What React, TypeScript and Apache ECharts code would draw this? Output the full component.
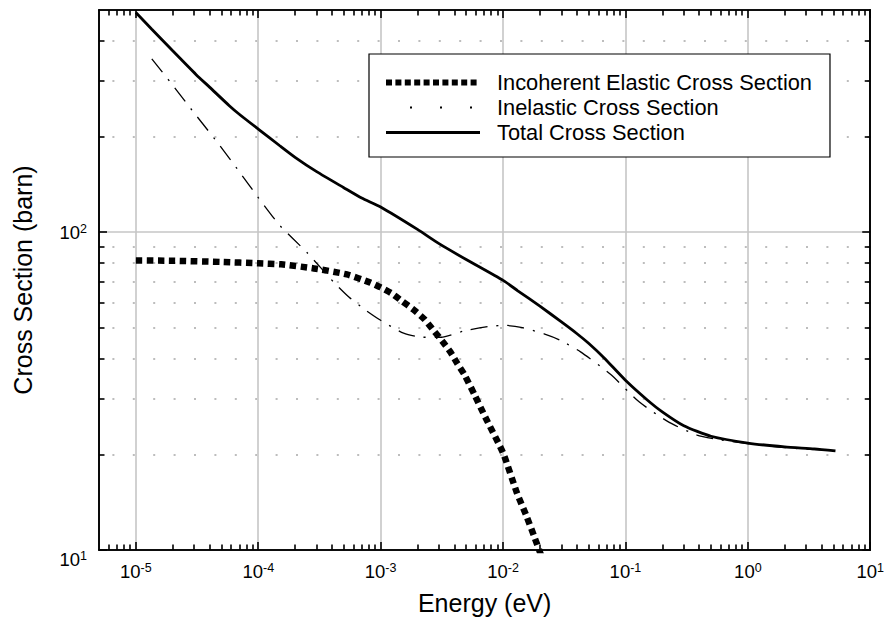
import React, { useEffect, useRef } from 'react';
import * as echarts from 'echarts';

const FONT = '"Liberation Sans", Arial, Helvetica, sans-serif';

// Tick labels / tick positions
const xMajorTicks = [1e-5, 1e-4, 1e-3, 1e-2, 1e-1, 1, 10];
const xMinorMantissas = [2, 3, 4, 5, 6, 7, 8, 9];
const xMinorDecades = [1e-6, 1e-5, 1e-4, 1e-3, 1e-2, 1e-1, 1];
const yMajorTicks = [10, 100];
const yMinorTicks = [20, 30, 40, 50, 60, 70, 80, 90, 200, 300, 400];

const X_MIN = 5e-6;
const X_MAX = 10;
const Y_MIN = 10;
const Y_MAX = 500;

const seriesNames = [
  'Incoherent Elastic Cross Section',
  'Inelastic Cross Section',
  'Total Cross Section',
];

// Incoherent elastic cross section
const elasticEnergy = [
  1e-5, 2e-5, 5e-5, 1e-4, 1.54e-4, 2.85e-4, 5.3e-4, 8.15e-4, 1e-3, 1.23e-3,
  1.51e-3, 1.85e-3, 2.28e-3, 2.75e-3, 3.19e-3, 3.71e-3, 4.23e-3, 4.82e-3,
  5.92e-3, 7.15e-3, 1e-2, 1.3e-2, 1.54e-2, 1.79e-2, 2.05e-2,
];
const elasticXS = [
  81.5, 81.3, 80.6, 79.8, 79.2, 76.9, 73.6, 69.5, 67.0, 64.2,
  60.5, 57.1, 53.2, 48.7, 45.4, 42.0, 38.6, 35.7,
  30.5, 26.2, 20.2, 15.1, 12.9, 11.07, 9.6,
];

// Inelastic cross section
const inelasticEnergy = [
  1.35e-5, 2e-5, 3e-5, 4.82e-5, 7e-5, 1e-4, 1.5e-4, 2.5e-4, 4.15e-4, 5.5e-4,
  7.55e-4, 1e-3, 1.54e-3, 2.19e-3, 3.13e-3, 4.73e-3, 7.98e-3, 1.04e-2, 1.4e-2,
  2.19e-2, 2.9e-2, 4.3e-2, 7.55e-2, 0.13, 0.228, 0.385, 0.6, 1, 2, 3.5, 5.2,
];
const inelasticXS = [
  351, 290, 237, 188, 155, 128.5, 105, 86.3, 69.5, 62.5,
  56.8, 52.8, 48.1, 46.7, 46.7, 48.8, 50.6, 50.9, 50.2,
  47.8, 45.8, 42.0, 35.7, 29.2, 25.2, 23.0, 22.2, 21.6, 21.0, 20.7, 20.5,
];

// Total cross section
const totalEnergy = [
  1e-5, 1.35e-5, 2e-5, 3.11e-5, 4e-5, 5.8e-5, 7e-5, 1e-4, 1.5e-4, 2e-4, 3e-4, 5e-4,
  7e-4, 1e-3, 2e-3, 3e-3, 5e-3, 1e-2, 1.32e-2, 2e-2, 3e-2, 4e-2, 5e-2, 6.7e-2, 0.1,
  0.15, 0.2, 0.3, 0.5, 1, 2, 3.5, 5.2,
];
const totalXS = [
  491, 435, 372, 313, 286, 250, 235, 211, 187, 172, 155, 138,
  128, 120, 102, 92, 82, 70.5, 65.4, 58.5, 52.2, 48.0, 44.7, 40.2, 34.2,
  29.7, 27.2, 24.6, 22.8, 21.7, 21.1, 20.8, 20.5,
];

const xMinorTicks: number[] = [];
xMinorDecades.forEach((d) =>
  xMinorMantissas.forEach((m) => {
    const v = m * d;
    if (v >= X_MIN && v <= X_MAX) xMinorTicks.push(v);
  })
);

const pairs = (xs: number[], ys: number[]) => xs.map((x, i) => [x, ys[i]]);

const expOf = (v: number) => Math.round(Math.log10(v));

const tickRich = {
  b: { fontSize: 18.5, fontFamily: FONT, color: '#000', lineHeight: 20 },
  s: { fontSize: 12.5, fontFamily: FONT, color: '#000', lineHeight: 12, verticalAlign: 'top' },
  g: { fontSize: 10, lineHeight: 18 },
};

export default function App() {
  const ref = useRef<HTMLDivElement>(null);

  useEffect(() => {
    if (!ref.current) return;
    const chart = echarts.init(ref.current, null, { renderer: 'svg' });

    const blackLine = { color: '#000', width: 1.6 };
    const tickLine = { color: '#000', width: 1.6 };

    const logX = { type: 'log', logBase: 10, min: X_MIN, max: X_MAX, gridIndex: 0 };
    const logY = { type: 'log', logBase: 10, min: Y_MIN, max: Y_MAX, gridIndex: 0 };

    const hiddenSymbol = { opacity: 0, color: 'rgba(0,0,0,0)', borderWidth: 0 };

    const plainAxis = (base: any, position: string, ticks: number[], length: number) => ({
      ...base,
      position,
      axisLine: { show: true, lineStyle: blackLine },
      axisTick: { show: true, inside: true, length, customValues: ticks, lineStyle: tickLine },
      axisLabel: { show: false },
      splitLine: { show: false },
      minorTick: { show: false },
      minorSplitLine: { show: false },
    });

    const option: any = {
      animation: false,
      backgroundColor: '#fff',
      grid: { left: 99, right: 15, top: 10, bottom: 82 },
      legend: {
        orient: 'vertical',
        left: 369,
        top: 54,
        padding: [16, 18, 12, 14],
        borderColor: '#000',
        borderWidth: 1.2,
        backgroundColor: '#fff',
        itemWidth: 94,
        itemHeight: 14,
        itemGap: 0,
        selectedMode: false,
        itemStyle: hiddenSymbol,
        textStyle: {
          fontSize: 21.8,
          fontFamily: FONT,
          color: '#000',
          lineHeight: 25,
          padding: [0, 0, 0, 12],
        },
        data: [
          {
            name: seriesNames[0],
            itemStyle: hiddenSymbol,
            lineStyle: { color: '#000', width: 6, type: [6, 3.4], cap: 'butt' },
          },
          {
            name: seriesNames[1],
            itemStyle: hiddenSymbol,
            lineStyle: { color: '#000', width: 2, type: [2, 28], dashOffset: 6, cap: 'butt' },
          },
          {
            name: seriesNames[2],
            itemStyle: hiddenSymbol,
            lineStyle: { color: '#000', width: 2.8, type: 'solid' },
          },
        ],
      },
      xAxis: [
        {
          ...plainAxis(logX, 'bottom', xMajorTicks, 8),
          axisLabel: {
            show: true,
            customValues: xMajorTicks,
            margin: 11,
            formatter: (v: number) => `{b|10}{s|${expOf(v)}}`,
            rich: tickRich,
          },
          splitLine: { show: true, lineStyle: { color: '#c6c6c6', width: 1.6 } },
          name: 'Energy (eV)',
          nameLocation: 'middle',
          nameGap: 40,
          nameTextStyle: { fontSize: 25, fontFamily: FONT, color: '#000' },
        },
        plainAxis(logX, 'bottom', xMinorTicks, 5.5),
        plainAxis(logX, 'top', xMajorTicks, 8),
        plainAxis(logX, 'top', xMinorTicks, 5.5),
      ],
      yAxis: [
        {
          ...plainAxis(logY, 'left', yMajorTicks, 8),
          axisLabel: {
            show: true,
            customValues: yMajorTicks,
            margin: 12,
            formatter: (v: number) =>
              expOf(v) === 1 ? `{g| }\n{b|10}{s|1}` : `{b|10}{s|${expOf(v)}}`,
            rich: tickRich,
          },
          splitLine: { show: true, lineStyle: { color: '#c6c6c6', width: 1.6 } },
          name: 'Cross Section (barn)',
          nameLocation: 'middle',
          nameGap: 64,
          nameTextStyle: { fontSize: 25, fontFamily: FONT, color: '#000' },
        },
        {
          ...plainAxis(logY, 'left', yMinorTicks, 5.5),
          splitLine: {
            show: true,
            lineStyle: { color: '#bdbdbd', width: 1.8, type: [2, 18.4], dashOffset: 7 },
          },
        },
        plainAxis(logY, 'right', yMajorTicks, 8),
        plainAxis(logY, 'right', yMinorTicks, 5.5),
      ],
      series: [
        {
          name: seriesNames[0],
          type: 'line',
          xAxisIndex: 0,
          yAxisIndex: 0,
          data: pairs(elasticEnergy, elasticXS),
          symbol: 'none',
          showSymbol: false,
          smooth: 0.2,
          clip: true,
          lineStyle: { color: '#000', width: 6.5, type: [6.5, 4.5], cap: 'butt', join: 'miter' },
          itemStyle: { color: '#000' },
          z: 3,
        },
        {
          name: seriesNames[1],
          type: 'line',
          xAxisIndex: 0,
          yAxisIndex: 0,
          data: pairs(inelasticEnergy, inelasticXS),
          symbol: 'none',
          showSymbol: false,
          smooth: 0.2,
          clip: true,
          lineStyle: { color: '#000', width: 1.3, type: [17, 9, 2, 9], cap: 'butt' },
          itemStyle: { color: '#000' },
          z: 4,
        },
        {
          name: seriesNames[2],
          type: 'line',
          xAxisIndex: 0,
          yAxisIndex: 0,
          data: pairs(totalEnergy, totalXS),
          symbol: 'none',
          showSymbol: false,
          smooth: 0.2,
          clip: true,
          lineStyle: { color: '#000', width: 2.8, type: 'solid' },
          itemStyle: { color: '#000' },
          z: 5,
        },
      ],
    };

    chart.setOption(option);
    return () => chart.dispose();
  }, []);

  return (
    <div
      ref={ref}
      style={{ position: 'fixed', left: 0, top: 0, width: 887, height: 632, background: '#fff' }}
    />
  );
}
